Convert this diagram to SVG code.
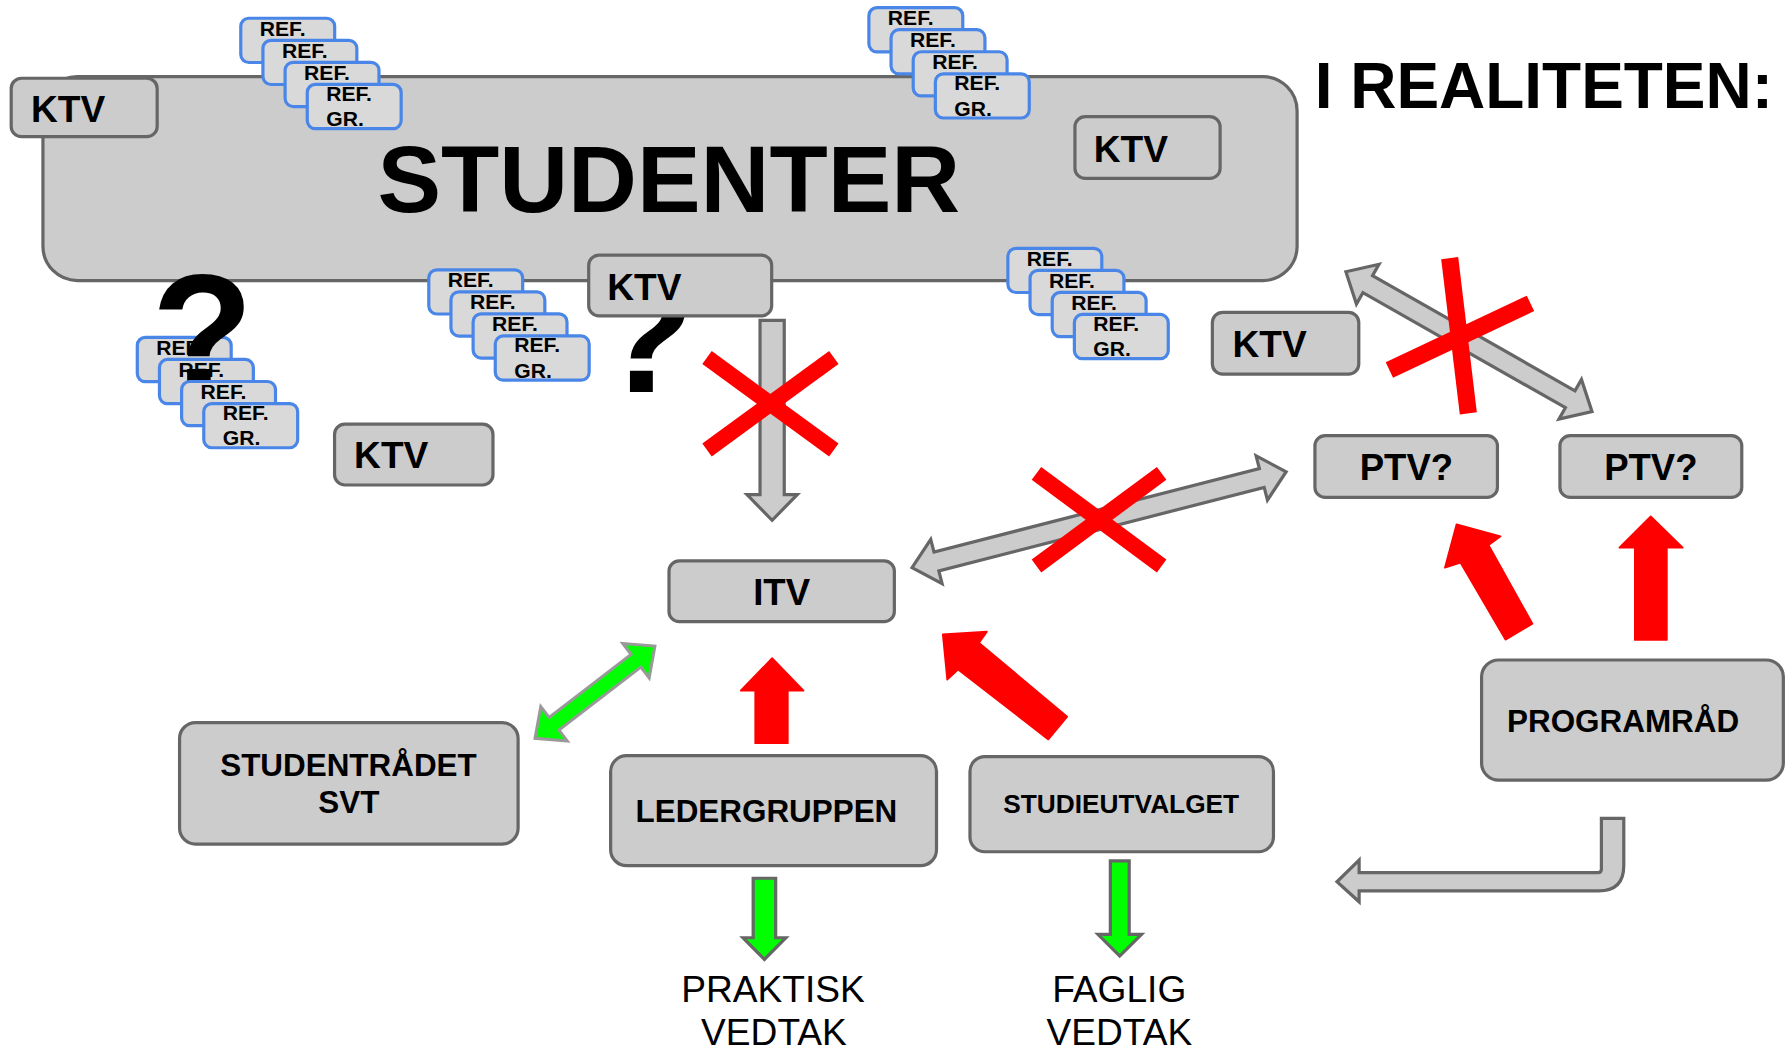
<svg xmlns="http://www.w3.org/2000/svg" width="1791" height="1050" viewBox="0 0 1791 1050">
<style>
.box{fill:#cccccc;stroke:#666666;stroke-width:2.8}
.ref{fill:#d9d9d9;stroke:#4a86e8;stroke-width:2.8}
.t{font-family:"Liberation Sans",Arial,sans-serif;font-weight:bold;fill:#000}
.n{font-family:"Liberation Sans",Arial,sans-serif;font-weight:normal;fill:#000}
.rt{font-size:18.5px}
.k{font-size:32.5px}
.redx{stroke:#ff0000;stroke-width:14;stroke-linecap:butt;fill:none}
.garrow{fill:#cccccc;stroke:#666666;stroke-width:2.8;stroke-linejoin:miter}
.gd{fill:#00ff00;stroke:#666666;stroke-width:2.8}
.gdiag{fill:#00ff00;stroke:#999999;stroke-width:2.6}
.red{fill:#ff0000;stroke:#ff0000;stroke-width:1.5;stroke-linejoin:round}
</style>
<rect width="1791" height="1050" fill="#ffffff"/>
<g transform="scale(1.142219)">
<g id="studenter">
<rect class="box" x="37.6" y="67.1" width="1098" height="178.5" rx="30"/>
<text class="t" x="585.5" y="185.6" font-size="83.5" text-anchor="middle">STUDENTER</text>
</g>
<g id="title"><text class="t" x="1151" y="94.8" font-size="56">I REALITETEN:</text></g>
<g id="ktv-1"><rect class="box" x="9.8" y="68.5" width="127.8" height="51.2" rx="9"/><text class="t k" x="27.1" y="106.5">KTV</text></g>
<g id="ktv-2"><rect class="box" x="941.1" y="102.1" width="127.1" height="54.1" rx="9"/><text class="t k" x="957.6" y="142">KTV</text></g>
<g id="ref-a" transform="translate(209.4,14.6)">
<rect class="ref" x="1.4" y="1.4" width="82.2" height="38.7" rx="7"/><text class="t rt" x="18" y="16.5">REF.</text>
<rect class="ref" x="20.8" y="20.7" width="82.2" height="38.7" rx="7"/><text class="t rt" x="37.4" y="35.8">REF.</text>
<rect class="ref" x="40.2" y="40" width="82.2" height="38.7" rx="7"/><text class="t rt" x="56.8" y="55.1">REF.</text>
<rect class="ref" x="59.6" y="59.3" width="82.2" height="38.7" rx="7"/><text class="t rt" x="76.2" y="73.4">REF.</text><text class="t rt" x="76.2" y="96">GR.</text>
</g>
<g id="ref-b" transform="translate(759.3,5.3)">
<rect class="ref" x="1.4" y="1.4" width="82.2" height="38.7" rx="7"/><text class="t rt" x="18" y="16.5">REF.</text>
<rect class="ref" x="20.8" y="20.7" width="82.2" height="38.7" rx="7"/><text class="t rt" x="37.4" y="35.8">REF.</text>
<rect class="ref" x="40.2" y="40" width="82.2" height="38.7" rx="7"/><text class="t rt" x="56.8" y="55.1">REF.</text>
<rect class="ref" x="59.6" y="59.3" width="82.2" height="38.7" rx="7"/><text class="t rt" x="76.2" y="73.4">REF.</text><text class="t rt" x="76.2" y="96">GR.</text>
</g>
<g id="question-2"><text class="t" x="564.4" y="343" font-size="142" text-anchor="middle">?</text></g>
<g id="ktv-3"><rect class="box" x="515.4" y="223.4" width="160.2" height="53.2" rx="9"/><text class="t k" x="531.6" y="263">KTV</text></g>
<g id="ref-c" transform="translate(374,234.8)">
<rect class="ref" x="1.4" y="1.4" width="82.2" height="38.7" rx="7"/><text class="t rt" x="18" y="16.5">REF.</text>
<rect class="ref" x="20.8" y="20.7" width="82.2" height="38.7" rx="7"/><text class="t rt" x="37.4" y="35.8">REF.</text>
<rect class="ref" x="40.2" y="40" width="82.2" height="38.7" rx="7"/><text class="t rt" x="56.8" y="55.1">REF.</text>
<rect class="ref" x="59.6" y="59.3" width="82.2" height="38.7" rx="7"/><text class="t rt" x="76.2" y="73.4">REF.</text><text class="t rt" x="76.2" y="96">GR.</text>
</g>
<g id="ref-d-back" transform="translate(118.8,294)">
<rect class="ref" x="1.4" y="1.4" width="82.2" height="38.7" rx="7"/><text class="t rt" x="18" y="16.5">REF.</text>
<rect class="ref" x="20.8" y="20.7" width="82.2" height="38.7" rx="7"/><text class="t rt" x="37.4" y="35.8">REF.</text>
</g>
<g id="question-1"><text class="t" x="177.3" y="342" font-size="146" text-anchor="middle">?</text></g>
<g id="ref-d-front" transform="translate(118.8,294)">
<rect class="ref" x="40.2" y="40" width="82.2" height="38.7" rx="7"/><text class="t rt" x="56.8" y="55.1">REF.</text>
<rect class="ref" x="59.6" y="59.3" width="82.2" height="38.7" rx="7"/><text class="t rt" x="76.2" y="73.4">REF.</text><text class="t rt" x="76.2" y="96">GR.</text>
</g>
<g id="ref-e" transform="translate(881,216)">
<rect class="ref" x="1.4" y="1.4" width="82.2" height="38.7" rx="7"/><text class="t rt" x="18" y="16.5">REF.</text>
<rect class="ref" x="20.8" y="20.7" width="82.2" height="38.7" rx="7"/><text class="t rt" x="37.4" y="35.8">REF.</text>
<rect class="ref" x="40.2" y="40" width="82.2" height="38.7" rx="7"/><text class="t rt" x="56.8" y="55.1">REF.</text>
<rect class="ref" x="59.6" y="59.3" width="82.2" height="38.7" rx="7"/><text class="t rt" x="76.2" y="73.4">REF.</text><text class="t rt" x="76.2" y="96">GR.</text>
</g>
<g id="ktv-4"><rect class="box" x="292.9" y="371.4" width="138.7" height="53.2" rx="9"/><text class="t k" x="310" y="410">KTV</text></g>
<g id="ktv-5"><rect class="box" x="1061.4" y="273.4" width="128.2" height="54.2" rx="9"/><text class="t k" x="1079" y="312.6">KTV</text></g>
<g id="itv"><rect class="box" x="585.7" y="491.1" width="197.3" height="53.2" rx="9"/><text class="t" x="684.3" y="529.7" font-size="32" text-anchor="middle">ITV</text></g>
<g id="ptv-1"><rect class="box" x="1151.2" y="381.4" width="159.8" height="54.1" rx="9"/><text class="t" x="1231.3" y="420.2" font-size="32" text-anchor="middle">PTV?</text></g>
<g id="ptv-2"><rect class="box" x="1365.7" y="381.4" width="159.2" height="54.1" rx="9"/><text class="t" x="1445.3" y="420.2" font-size="32" text-anchor="middle">PTV?</text></g>
<g id="programrad"><rect class="box" x="1297.1" y="577.8" width="264.2" height="105.2" rx="15"/><text class="t" x="1421" y="640.6" font-size="27.5" text-anchor="middle">PROGRAMRÅD</text></g>
<g id="studentradet"><rect class="box" x="157.2" y="632.6" width="296.4" height="106.4" rx="14"/><text class="t" x="305.1" y="679.1" font-size="27.5" text-anchor="middle">STUDENTRÅDET</text><text class="t" x="305.4" y="712" font-size="27.5" text-anchor="middle">SVT</text></g>
<g id="ledergruppen"><rect class="box" x="534.6" y="661.5" width="285.3" height="96.4" rx="14"/><text class="t" x="671" y="719.4" font-size="27.5" text-anchor="middle">LEDERGRUPPEN</text></g>
<g id="studieutvalget"><rect class="box" x="849.2" y="662.4" width="265.7" height="83.3" rx="13"/><text class="t" x="981.6" y="712.1" font-size="23" text-anchor="middle">STUDIEUTVALGET</text></g>
<g id="praktisk-vedtak"><text class="n" x="676.8" y="877" font-size="32.5" text-anchor="middle">PRAKTISK</text><text class="n" x="677.6" y="914.9" font-size="32.5" text-anchor="middle">VEDTAK</text></g>
<g id="faglig-vedtak"><text class="n" x="979.9" y="877" font-size="32.5" text-anchor="middle">FAGLIG</text><text class="n" x="980" y="914.9" font-size="32.5" text-anchor="middle">VEDTAK</text></g>
<g id="connectors">
<polygon class="garrow" points="665.4,280.4 686.6,280.4 686.6,433 698,433 676,455.5 654,433 665.4,433"/>
<polygon class="garrow" points="798.5,497 814.85,472.15 817.71,483.29 1102.57,410.23 1099.71,399.09 1126,413 1109.65,437.85 1106.79,426.71 821.93,499.77 824.79,510.91"/>
<polygon class="garrow" points="1178.3,237.9 1207.3,231.39 1201.62,241.38 1378.88,342.14 1384.56,332.15 1393.8,360.4 1364.8,366.91 1370.48,356.92 1193.22,256.16 1187.54,266.15"/>
<path class="garrow" d="M1402,716.4 L1421.6,716.4 L1421.6,758 Q1421.6,780 1399.6,780 L1189.9,780 L1189.9,789.5 L1170.5,772 L1189.9,753 L1189.9,764 L1399,764 Q1402,764 1402,761 Z"/>
<polygon class="gdiag" points="468.4,646.4 473.44,618.54 480.76,628.05 552.5,572.87 545.18,563.36 573.4,565.6 568.36,593.46 561.04,583.95 489.3,639.13 496.62,648.64"/>
<polygon class="gd" points="659.4,768.9 679.1,768.9 679.1,821 688,821 669.2,840 650.5,821 659.4,821"/>
<polygon class="gd" points="972.1,753.7 988.6,753.7 988.6,818 999.4,818 980.3,837 961.3,818 972.1,818"/>
<polygon class="red" points="661.2,650.6 661.2,604.6 648.5,604.6 676,576.2 703.5,604.6 689.7,604.6 689.7,650.6"/>
<polygon class="red" points="825.4,555.3 864,553 857.2,562.8 934.3,627.5 917.8,647.4 838.8,586.2 829.3,595"/>
<polygon class="red" points="1275.2,459 1313.7,469.5 1303.3,477.3 1341.6,546 1318,560 1278.6,492.6 1265,497"/>
<polygon class="red" points="1445.2,452 1473.2,479.5 1459.3,479.5 1459.3,560.3 1431.3,560.3 1431.3,479.5 1417.8,479.5"/>
<line class="redx" x1="619" y1="313" x2="730" y2="394"/>
<line class="redx" x1="730" y1="313" x2="619" y2="394"/>
<line class="redx" x1="907.4" y1="414.4" x2="1017" y2="495.5"/>
<line class="redx" x1="1017" y1="414.4" x2="907.4" y2="495.5"/>
<line class="redx" x1="1269.2" y1="226" x2="1285.5" y2="361.9" style="stroke-width:15"/>
<line class="redx" x1="1216.4" y1="324" x2="1339.9" y2="265.6" style="stroke-width:15"/>
</g>
</g>
</svg>
